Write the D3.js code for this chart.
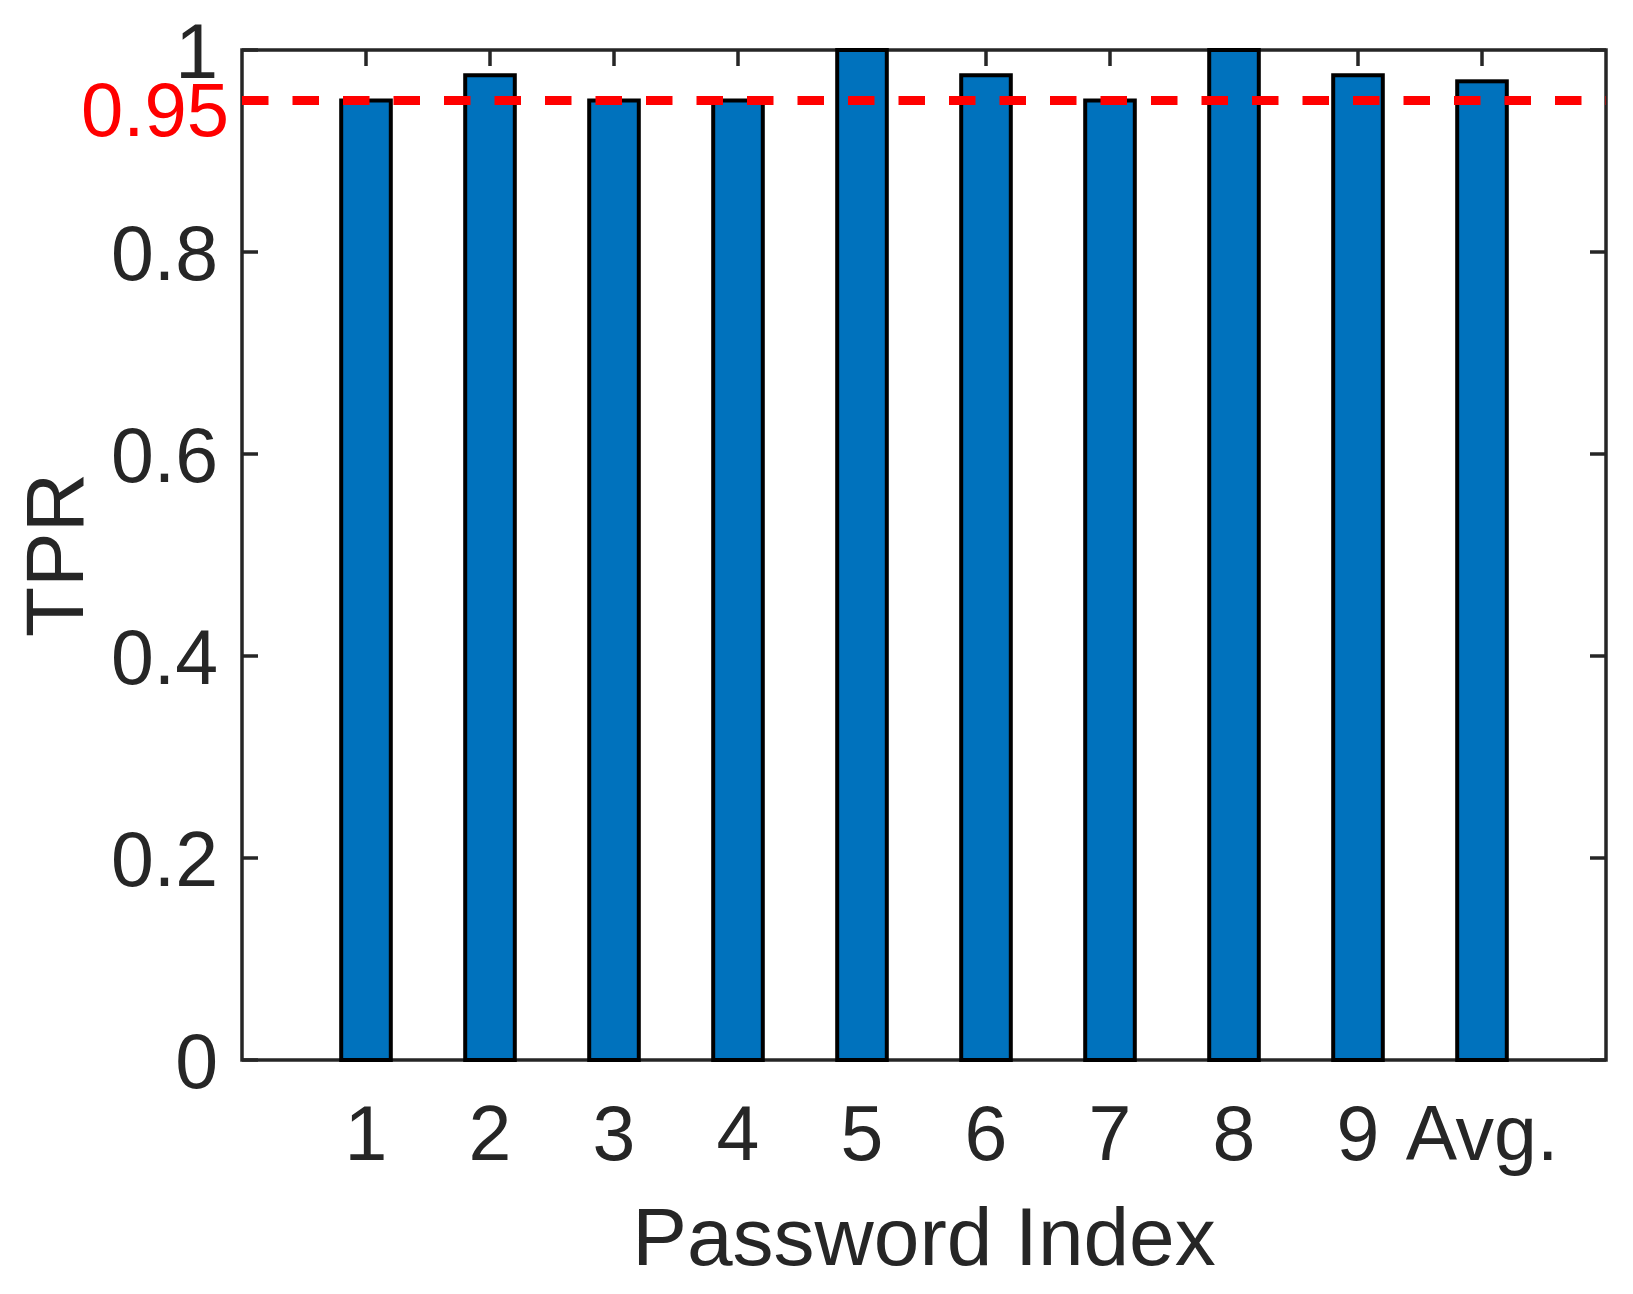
<!DOCTYPE html>
<html>
<head>
<meta charset="utf-8">
<script src="https://cdn.jsdelivr.net/npm/d3@7"></script>
<style>
  body { margin: 0; background: #fff; }
  text { font-family: "Liberation Sans", Arial, Helvetica, sans-serif; }
</style>
</head>
<body>
<div id="chart"></div>
<script>
// TPR per password
const categories = ['1', '2', '3', '4', '5', '6', '7', '8', '9', 'Avg.'];
const tprValues = [0.95, 0.975, 0.95, 0.95, 1.0, 0.975, 0.95, 1.0, 0.975, 0.969];
const yTicks = [0, 0.2, 0.4, 0.6, 0.8, 1];
const threshold = 0.95;

const width = 1633;
const height = 1294;
const margin = { top: 50, right: 27, bottom: 234, left: 242 };
const ink = '#262626';

const svg = d3.select('#chart').append('svg')
    .attr('width', width)
    .attr('height', height);

const x = d3.scaleLinear()
    .domain([0, categories.length + 1])
    .range([margin.left, width - margin.right]);

const y = d3.scaleLinear()
    .domain([0, 1])
    .range([height - margin.bottom, margin.top]);

const data = categories.map((c, i) => ({ label: c, pos: i + 1, value: tprValues[i] }));
const barW = x(0.4) - x(0);
const tickLen = 16;

// tick marks (inside, on all four sides), drawn under the bars
const ticks = svg.append('g').attr('stroke', ink).attr('stroke-width', 3.5);
yTicks.forEach(t => {
    ticks.append('line').attr('x1', x(0)).attr('x2', x(0) + tickLen).attr('y1', y(t)).attr('y2', y(t));
    ticks.append('line').attr('x1', x(11)).attr('x2', x(11) - tickLen).attr('y1', y(t)).attr('y2', y(t));
});
data.forEach(d => {
    ticks.append('line').attr('x1', x(d.pos)).attr('x2', x(d.pos)).attr('y1', y(1)).attr('y2', y(1) + tickLen);
    ticks.append('line').attr('x1', x(d.pos)).attr('x2', x(d.pos)).attr('y1', y(0)).attr('y2', y(0) - tickLen);
});

// axes box
svg.append('rect')
    .attr('x', x(0))
    .attr('y', y(1))
    .attr('width', x(11) - x(0))
    .attr('height', y(0) - y(1))
    .attr('fill', 'none')
    .attr('stroke', ink)
    .attr('stroke-width', 3.5);

// bars
svg.append('g').selectAll('rect')
    .data(data)
    .enter().append('rect')
    .attr('x', d => x(d.pos) - barW / 2)
    .attr('y', d => y(d.value))
    .attr('width', barW)
    .attr('height', d => y(0) - y(d.value))
    .attr('fill', '#0072BD')
    .attr('stroke', '#000')
    .attr('stroke-width', 4);

// 0.95 threshold line
svg.append('line')
    .attr('x1', x(0))
    .attr('x2', x(11))
    .attr('y1', y(threshold))
    .attr('y2', y(threshold))
    .attr('stroke', '#FF0000')
    .attr('stroke-width', 9)
    .attr('stroke-dasharray', '26.5,24');

// y tick labels
svg.append('g').selectAll('text')
    .data(yTicks)
    .enter().append('text')
    .attr('x', x(0) - 24)
    .attr('y', d => y(d) + 27.5)
    .attr('text-anchor', 'end')
    .style('font-size', '77px')
    .style('fill', ink)
    .text(d => d3.format('~g')(d));

svg.append('text')
    .attr('x', x(0) - 13)
    .attr('y', y(threshold) + 35)
    .attr('text-anchor', 'end')
    .style('font-size', '76px')
    .style('fill', '#FF0000')
    .text('0.95');

// x tick labels
svg.append('g').selectAll('text')
    .data(data)
    .enter().append('text')
    .attr('x', d => x(d.pos))
    .attr('y', 1160)
    .attr('text-anchor', 'middle')
    .style('font-size', '77px')
    .style('fill', ink)
    .text(d => d.label);

// axis titles
svg.append('text')
    .attr('x', (x(0) + x(11)) / 2)
    .attr('y', 1265)
    .attr('text-anchor', 'middle')
    .style('font-size', '82px')
    .style('fill', ink)
    .text('Password Index');

svg.append('text')
    .attr('transform', `translate(83, ${(y(0) + y(1)) / 2}) rotate(-90)`)
    .attr('text-anchor', 'middle')
    .style('font-size', '82px')
    .style('fill', ink)
    .text('TPR');
</script>
</body>
</html>
